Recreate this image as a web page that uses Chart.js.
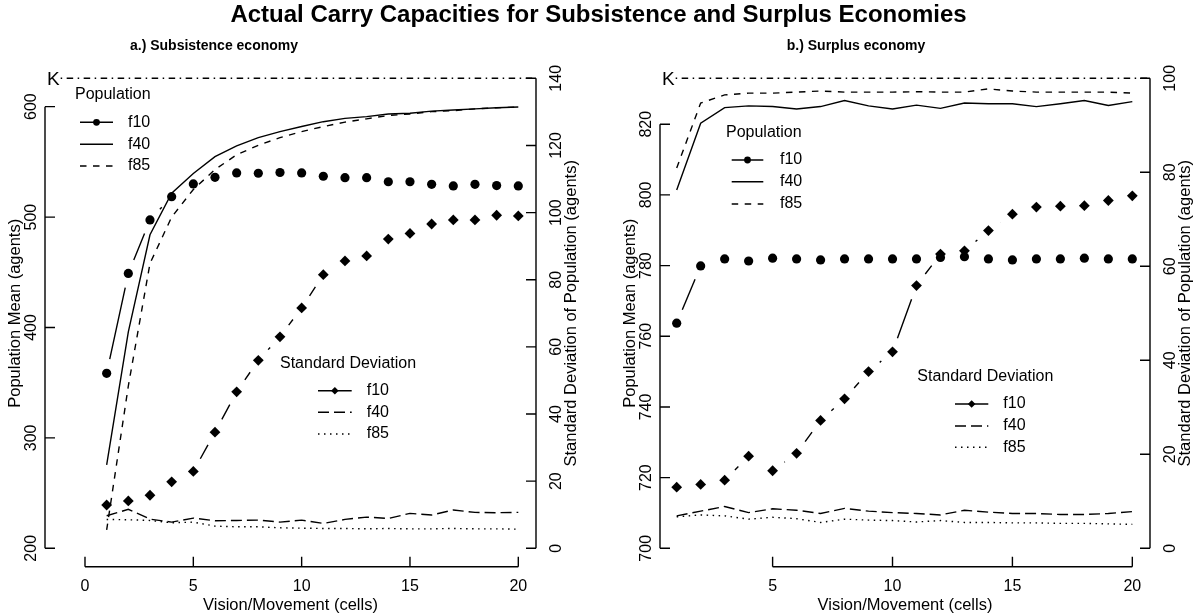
<!DOCTYPE html>
<html>
<head>
<meta charset="utf-8">
<title>Actual Carry Capacities</title>
<script src="https://cdn.jsdelivr.net/npm/chart.js@4.4.1/dist/chart.umd.min.js"></script>
<style>
    html, body { margin: 0; padding: 0; background: #fff; }
    #wrap { position: relative; width: 1197px; height: 616px; }
    #wrap canvas { position: absolute; left: 0; top: 0; }
</style>
</head>
<body>
<div id="wrap">
    <canvas id="panelA" width="1197" height="616"></canvas>
    <canvas id="panelB" width="1197" height="616"></canvas>
</div>
<script>
// ---------------------------------------------
// Vision/movement (cells), same for both panels
// ---------------------------------------------
const vision = [1, 2, 3, 4, 5, 6, 7, 8, 9, 10, 11, 12, 13, 14, 15, 16, 17, 18, 19, 20];

// a.) Subsistence economy - population mean (agents)
const subPopF10 = [358.5, 449, 497.4, 518.5, 530, 536, 540, 539.7, 540.4, 540, 537, 535.7, 535.7, 532, 532, 529.7, 528.2, 529.7, 528.5, 528.2];
const subPopF40 = [275.5, 396, 484, 521.6, 539.5, 554.7, 564.5, 572, 577.4, 582, 586.4, 589.4, 591, 593.4, 594, 596, 597, 598, 599, 599.7];
const subPopF85 = [216.6, 347, 458, 500, 525, 543, 556.5, 565, 572, 577.4, 582, 586, 589, 592, 593.4, 595.5, 596.4, 598, 599, 599.7];
// a.) Subsistence economy - standard deviation (agents)
const subSdF10 = [12.9, 14.1, 15.8, 19.8, 22.9, 34.6, 46.6, 56, 63, 71.6, 81.5, 85.6, 87.1, 92.1, 93.8, 96.6, 97.8, 97.8, 99.2, 99.0];
const subSdF40 = [9.7, 11.6, 8.7, 7.8, 9.0, 8.2, 8.3, 8.4, 7.8, 8.4, 7.4, 8.6, 9.3, 8.9, 10.4, 9.9, 11.4, 10.7, 10.6, 10.7];
const subSdF85 = [8.6, 8.5, 8.3, 7.6, 7.8, 6.6, 6.4, 6.4, 6.1, 6.0, 5.9, 5.9, 5.8, 5.9, 5.8, 5.8, 5.9, 5.8, 5.8, 5.7];

// b.) Surplus economy - population mean (agents)
const surPopF10 = [763.7, 779.9, 781.9, 781.3, 782.1, 781.9, 781.6, 781.9, 781.9, 781.9, 781.9, 782.3, 782.5, 781.9, 781.6, 781.9, 781.9, 782.1, 781.9, 781.9];
const surPopF40 = [801.4, 820.3, 824.7, 825.2, 825.0, 824.3, 825.0, 826.7, 825.2, 824.3, 825.4, 824.5, 826.0, 825.8, 825.8, 825.0, 825.8, 826.7, 825.3, 826.4];
const surPopF85 = [807.6, 826.0, 828.3, 828.8, 828.8, 829.1, 829.4, 829.1, 829.1, 829.1, 829.2, 829.1, 829.1, 830.0, 829.4, 829.1, 829.1, 829.1, 829.1, 828.8];
// b.) Surplus economy - standard deviation (agents)
const surSdF10 = [13.0, 13.6, 14.5, 19.6, 16.5, 20.2, 27.2, 31.8, 37.6, 41.8, 55.9, 62.6, 63.3, 67.6, 71.1, 72.6, 72.8, 72.9, 74.0, 75.0];
const surSdF40 = [6.9, 7.9, 8.9, 7.6, 8.4, 8.1, 7.4, 8.5, 7.9, 7.6, 7.4, 7.1, 8.1, 7.7, 7.4, 7.4, 7.2, 7.2, 7.4, 7.8];
const surSdF85 = [6.7, 7.1, 6.9, 6.2, 6.6, 6.3, 5.5, 6.2, 6.0, 5.9, 5.6, 5.9, 5.5, 5.5, 5.4, 5.4, 5.3, 5.3, 5.2, 5.1];

// tick labels
const subMeanTicks = [200, 300, 400, 500, 600];
const subSdTicks = [0, 20, 40, 60, 80, 100, 120, 140];
const subVisionTicks = [0, 5, 10, 15, 20];
const surMeanTicks = [700, 720, 740, 760, 780, 800, 820];
const surSdTicks = [0, 20, 40, 60, 80, 100];
const surVisionTicks = [5, 10, 15, 20];

const seriesNames = ['f10', 'f40', 'f85'];

// ---------------------------------------------
// styles
// ---------------------------------------------
const FONT = '"Liberation Sans", Arial, Helvetica, sans-serif';
const LW = 1.4;
const DASHED = [6.5, 6.5];
const LONGDASH = [11, 5];
const DOTTED = [1.5, 4.5];
const DOTDASH = [1.5, 4.5, 6.5, 4.5];
const GAP = 14.5;   // space left around the points on the f10 connecting lines

const toXY = (ys) => vision.map((v, i) => ({ x: v, y: ys[i] }));

function makeDatasets(pop, sd) {
    return [
        { label: 'pop f10', data: toXY(pop[0]), yAxisID: 'yL', showLine: false, gap: GAP,
          pointStyle: 'circle', pointRadius: 4.6, pointBackgroundColor: '#000', pointBorderWidth: 0 },
        { label: 'pop f40', data: toXY(pop[1]), yAxisID: 'yL', borderColor: '#000', borderWidth: LW, pointRadius: 0 },
        { label: 'pop f85', data: toXY(pop[2]), yAxisID: 'yL', borderColor: '#000', borderWidth: LW, borderDash: DASHED, pointRadius: 0 },
        { label: 'sd f10', data: toXY(sd[0]), yAxisID: 'yR', showLine: false, gap: GAP,
          pointStyle: 'rectRot', pointRadius: 5.4, pointBackgroundColor: '#000', pointBorderWidth: 0 },
        { label: 'sd f40', data: toXY(sd[1]), yAxisID: 'yR', borderColor: '#000', borderWidth: LW, borderDash: LONGDASH, pointRadius: 0 },
        { label: 'sd f85', data: toXY(sd[2]), yAxisID: 'yR', borderColor: '#000', borderWidth: LW, borderDash: DOTTED, pointRadius: 0 }
    ];
}

// vertical text, reading bottom to top
function vText(ctx, text, x, y) {
    ctx.save();
    ctx.translate(x, y);
    ctx.rotate(-Math.PI / 2);
    ctx.fillText(text, 0, 0);
    ctx.restore();
}

// axes, legends, labels and the gapped lines, drawn in base-graphics style
const basePlot = {
    id: 'basePlot',
    afterDatasetsDraw(chart, args, o) {
        const ctx = chart.ctx;
        const area = chart.chartArea;
        const xs = chart.scales.x, yL = chart.scales.yL, yR = chart.scales.yR;
        ctx.save();
        ctx.strokeStyle = '#000';
        ctx.fillStyle = '#000';
        ctx.lineWidth = LW;

        // f10 connecting lines with gaps at the points
        chart.data.datasets.forEach((ds, i) => {
            if (!ds.gap) return;
            const pts = chart.getDatasetMeta(i).data;
            ctx.setLineDash([]);
            ctx.beginPath();
            for (let k = 1; k < pts.length; k++) {
                const p0 = pts[k - 1], p1 = pts[k];
                const dx = p1.x - p0.x, dy = p1.y - p0.y;
                const len = Math.hypot(dx, dy);
                if (len <= 2 * ds.gap) continue;
                const ux = dx / len, uy = dy / len;
                ctx.moveTo(p0.x + ux * ds.gap, p0.y + uy * ds.gap);
                ctx.lineTo(p1.x - ux * ds.gap, p1.y - uy * ds.gap);
            }
            ctx.stroke();
        });

        // K line along the top
        const ky = yR.getPixelForValue(o.kValue);
        ctx.font = '19px ' + FONT;
        ctx.textAlign = 'left';
        ctx.textBaseline = 'middle';
        ctx.fillText('K', area.left + 2, ky + 1);
        const kw = ctx.measureText('K').width;
        ctx.setLineDash(DOTDASH);
        ctx.beginPath();
        ctx.moveTo(area.left + 3 + kw, ky);
        ctx.lineTo(area.right, ky);
        ctx.stroke();
        ctx.setLineDash([]);

        // left axis
        const lt = o.leftTicks;
        ctx.beginPath();
        ctx.moveTo(area.left, yL.getPixelForValue(lt[0]));
        ctx.lineTo(area.left, yL.getPixelForValue(lt[lt.length - 1]));
        lt.forEach(t => {
            const py = yL.getPixelForValue(t);
            ctx.moveTo(area.left, py);
            ctx.lineTo(area.left + 10, py);
        });
        // right axis
        const rt = o.rightTicks;
        rt.forEach(t => {
            const py = yR.getPixelForValue(t);
            ctx.moveTo(area.right, py);
            ctx.lineTo(area.right - 10, py);
        });
        ctx.moveTo(area.right, yR.getPixelForValue(rt[0]));
        ctx.lineTo(area.right, yR.getPixelForValue(rt[rt.length - 1]));
        // bottom axis
        const bt = o.bottomTicks;
        const by = area.bottom + 18.4;
        ctx.moveTo(xs.getPixelForValue(bt[0]), by);
        ctx.lineTo(xs.getPixelForValue(bt[bt.length - 1]), by);
        bt.forEach(t => {
            const px = xs.getPixelForValue(t);
            ctx.moveTo(px, by);
            ctx.lineTo(px, by - 10);
        });
        ctx.stroke();

        // tick labels
        ctx.font = '16px ' + FONT;
        ctx.textAlign = 'center';
        ctx.textBaseline = 'middle';
        lt.forEach(t => vText(ctx, String(t), area.left - 13.5, yL.getPixelForValue(t)));
        rt.forEach(t => vText(ctx, String(t), area.right + 21, yR.getPixelForValue(t)));
        bt.forEach(t => ctx.fillText(String(t), xs.getPixelForValue(t), by + 20));

        // axis titles
        const midY = (area.top + area.bottom) / 2;
        ctx.font = '16.5px ' + FONT;
        ctx.fillText('Vision/Movement (cells)', (area.left + area.right) / 2, by + 38.5);
        vText(ctx, 'Population Mean (agents)', area.left - 30, midY);
        vText(ctx, 'Standard Deviation of Population (agents)', area.right + 35, midY);

        // panel title
        ctx.font = 'bold 14px ' + FONT;
        ctx.fillText(o.panelTitle, o.panelTitleX, 46);

        // legends
        o.legends.forEach(lg => {
            ctx.font = '16px ' + FONT;
            ctx.textAlign = 'left';
            ctx.fillText(lg.title, lg.titleX, lg.titleY);
            lg.rows.forEach((ry, k) => {
                const it = lg.items[k];
                ctx.setLineDash(it.dash);
                ctx.beginPath();
                ctx.moveTo(lg.x0, ry);
                ctx.lineTo(lg.x1, ry);
                ctx.stroke();
                ctx.setLineDash([]);
                const cx = (lg.x0 + lg.x1) / 2;
                if (it.marker === 'circle') {
                    ctx.beginPath();
                    ctx.arc(cx, ry, 3.4, 0, Math.PI * 2);
                    ctx.fill();
                } else if (it.marker === 'diamond') {
                    ctx.beginPath();
                    ctx.moveTo(cx - 3.8, ry);
                    ctx.lineTo(cx, ry - 3.8);
                    ctx.lineTo(cx + 3.8, ry);
                    ctx.lineTo(cx, ry + 3.8);
                    ctx.closePath();
                    ctx.fill();
                }
                ctx.fillText(seriesNames[k], lg.labelX, ry);
            });
        });

        // main title, drawn once
        if (o.mainTitle) {
            ctx.font = 'bold 24px ' + FONT;
            ctx.textAlign = 'center';
            ctx.fillText(o.mainTitle, 598.5, 15);
        }
        ctx.restore();
    }
};

const popItems = [
    { dash: [], marker: 'circle' },
    { dash: [], marker: null },
    { dash: DASHED, marker: null }
];
const sdItems = [
    { dash: [], marker: 'diamond' },
    { dash: LONGDASH, marker: null },
    { dash: DOTTED, marker: null }
];

function buildPanel(canvasId, cfg) {
    const ctx = document.getElementById(canvasId).getContext('2d');
    return new Chart(ctx, {
        type: 'line',
        data: { datasets: makeDatasets(cfg.pop, cfg.sd) },
        options: {
            responsive: false,
            animation: false,
            events: [],
            layout: { padding: cfg.padding },
            datasets: { line: { clip: false } },
            scales: {
                x: { type: 'linear', min: cfg.xRange[0], max: cfg.xRange[1], display: false },
                yL: { type: 'linear', position: 'left', min: cfg.meanRange[0], max: cfg.meanRange[1], display: false },
                yR: { type: 'linear', position: 'right', min: cfg.sdRange[0], max: cfg.sdRange[1], display: false }
            },
            plugins: {
                legend: { display: false },
                tooltip: { enabled: false },
                basePlot: {
                    kValue: cfg.sdRange[1],
                    leftTicks: cfg.meanTicks,
                    rightTicks: cfg.sdTicks,
                    bottomTicks: cfg.visionTicks,
                    panelTitle: cfg.title,
                    panelTitleX: cfg.titleX,
                    mainTitle: cfg.mainTitle,
                    legends: cfg.legends
                }
            }
        },
        plugins: [basePlot]
    });
}

buildPanel('panelA', {
    pop: [subPopF10, subPopF40, subPopF85],
    sd: [subSdF10, subSdF40, subSdF85],
    padding: { left: 45, right: 661, top: 78.3, bottom: 67.7 },
    xRange: [-1.846, 20.817],
    meanRange: [200, 625.7],
    sdRange: [0, 140],
    meanTicks: subMeanTicks,
    sdTicks: subSdTicks,
    visionTicks: subVisionTicks,
    title: 'a.) Subsistence economy',
    titleX: 214,
    mainTitle: 'Actual Carry Capacities for Subsistence and Surplus Economies',
    legends: [
        { title: 'Population', titleX: 75, titleY: 94.3, x0: 80, x1: 113, labelX: 128, rows: [122.3, 144.3, 166], items: popItems },
        { title: 'Standard Deviation', titleX: 280, titleY: 363.3, x0: 318, x1: 351.7, labelX: 366.7, rows: [390.7, 412.3, 434], items: sdItems }
    ]
});

buildPanel('panelB', {
    pop: [surPopF10, surPopF40, surPopF85],
    sd: [surSdF10, surSdF40, surSdF85],
    padding: { left: 660, right: 47, top: 78.3, bottom: 67.7 },
    xRange: [0.304, 20.7375],
    meanRange: [700, 833],
    sdRange: [0, 100],
    meanTicks: surMeanTicks,
    sdTicks: surSdTicks,
    visionTicks: surVisionTicks,
    title: 'b.) Surplus economy',
    titleX: 856,
    mainTitle: null,
    legends: [
        { title: 'Population', titleX: 726, titleY: 132.7, x0: 731.7, x1: 763.3, labelX: 780, rows: [160, 181.7, 204], items: popItems },
        { title: 'Standard Deviation', titleX: 917.3, titleY: 376.7, x0: 955, x1: 988.3, labelX: 1003.3, rows: [404, 426, 447.3], items: sdItems }
    ]
});
</script>
</body>
</html>
